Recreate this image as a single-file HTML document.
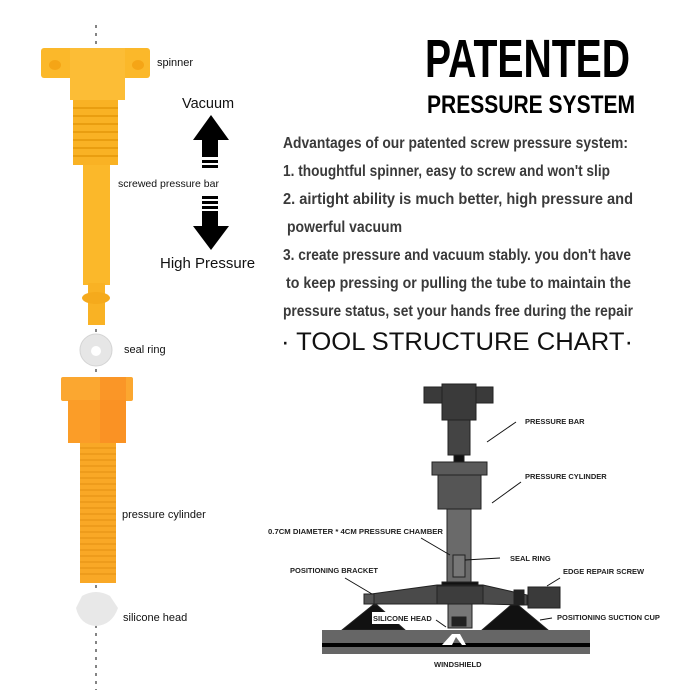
<!DOCTYPE html>
<html><head><meta charset="utf-8"><style>
html,body{margin:0;padding:0;background:#fff;}
svg{display:block;}
</style></head><body>
<svg width="700" height="700" viewBox="0 0 700 700" xmlns="http://www.w3.org/2000/svg" font-family="Liberation Sans, sans-serif">
<rect width="700" height="700" fill="#fff"/>
<line x1="96" y1="25" x2="96" y2="690" stroke="#333" stroke-width="1.2" stroke-dasharray="3,5"/>
<!-- spinner -->
<rect x="41" y="48" width="109" height="30" rx="3" fill="#fbb82a"/>
<ellipse cx="55" cy="65" rx="6" ry="5" fill="#f5a516"/>
<ellipse cx="138" cy="65" rx="6" ry="5" fill="#f5a516"/>
<rect x="70" y="48" width="55" height="52" fill="#fcbd36"/>
<rect x="73" y="100" width="45" height="65" fill="#f9b224"/>
<g stroke="#e99e10" stroke-width="2">
<line x1="73" y1="108" x2="118" y2="108"/><line x1="73" y1="116" x2="118" y2="116"/><line x1="73" y1="124" x2="118" y2="124"/><line x1="73" y1="132" x2="118" y2="132"/><line x1="73" y1="140" x2="118" y2="140"/><line x1="73" y1="148" x2="118" y2="148"/><line x1="73" y1="156" x2="118" y2="156"/></g>
<rect x="83" y="165" width="27" height="120" fill="#fbb82a"/>
<rect x="88" y="283" width="17" height="42" fill="#f9b224"/>
<ellipse cx="96" cy="298" rx="14" ry="6" fill="#f5aa1c"/>
<text x="157" y="66" font-size="11" fill="#111">spinner</text>
<text x="182" y="108" font-size="14.5" fill="#111">Vacuum</text>
<polygon points="211,115 229,140 193,140" fill="#000"/>
<rect x="202" y="140" width="16" height="17" fill="#000"/>
<rect x="202" y="160" width="16" height="3" fill="#000"/><rect x="202" y="165" width="16" height="3" fill="#000"/>
<text x="118" y="187" font-size="10.5" fill="#111">screwed pressure bar</text>
<rect x="202" y="196" width="16" height="3" fill="#000"/><rect x="202" y="201" width="16" height="3" fill="#000"/><rect x="202" y="206" width="16" height="3" fill="#000"/>
<rect x="202" y="211" width="16" height="15" fill="#000"/>
<polygon points="193,226 229,226 211,250" fill="#000"/>
<text x="160" y="268" font-size="15" fill="#111">High Pressure</text>
<!-- seal ring -->
<circle cx="96" cy="350" r="16" fill="#e6e6e6" stroke="#d4d4d4"/>
<circle cx="96" cy="351" r="5" fill="#fff"/>
<text x="124" y="353" font-size="11" fill="#111">seal ring</text>
<!-- cylinder -->
<rect x="61" y="377" width="72" height="24" rx="2" fill="#fba730"/>
<rect x="68" y="400" width="58" height="43" fill="#fb9d28"/>
<rect x="100" y="377" width="26" height="66" fill="#fa8a22" opacity="0.6"/>
<rect x="80" y="443" width="36" height="140" fill="#f9a826"/>
<g stroke="#e48f12" stroke-width="1">
<line x1="80" y1="448" x2="116" y2="448"/><line x1="80" y1="454" x2="116" y2="454"/><line x1="80" y1="460" x2="116" y2="460"/><line x1="80" y1="466" x2="116" y2="466"/><line x1="80" y1="472" x2="116" y2="472"/><line x1="80" y1="478" x2="116" y2="478"/><line x1="80" y1="484" x2="116" y2="484"/><line x1="80" y1="490" x2="116" y2="490"/><line x1="80" y1="496" x2="116" y2="496"/><line x1="80" y1="502" x2="116" y2="502"/><line x1="80" y1="508" x2="116" y2="508"/><line x1="80" y1="514" x2="116" y2="514"/><line x1="80" y1="520" x2="116" y2="520"/><line x1="80" y1="526" x2="116" y2="526"/><line x1="80" y1="532" x2="116" y2="532"/><line x1="80" y1="538" x2="116" y2="538"/><line x1="80" y1="544" x2="116" y2="544"/><line x1="80" y1="550" x2="116" y2="550"/><line x1="80" y1="556" x2="116" y2="556"/><line x1="80" y1="562" x2="116" y2="562"/><line x1="80" y1="568" x2="116" y2="568"/><line x1="80" y1="574" x2="116" y2="574"/></g>
<text x="122" y="518" font-size="11" fill="#111">pressure cylinder</text>
<path d="M82,596 Q96,588 110,596 L118,608 Q112,625 96,626 Q80,625 76,608 Z" fill="#e8e8e8"/>
<text x="123" y="621" font-size="11" fill="#111">silicone head</text>
<!-- right heading -->
<text x="425" y="77" font-size="54" font-weight="bold" fill="#000" textLength="205" lengthAdjust="spacingAndGlyphs">PATENTED</text>
<text x="427" y="113" font-size="25" font-weight="bold" fill="#000" textLength="208" lengthAdjust="spacingAndGlyphs">PRESSURE SYSTEM</text>
<g font-size="16" font-weight="bold" fill="#3a3a3a">
<text x="283" y="148" textLength="345" lengthAdjust="spacingAndGlyphs">Advantages of our patented screw pressure system:</text>
<text x="283" y="176" textLength="327" lengthAdjust="spacingAndGlyphs">1. thoughtful spinner, easy to screw and won't slip</text>
<text x="283" y="204" textLength="350" lengthAdjust="spacingAndGlyphs">2. airtight  ability  is  much  better,  high  pressure and</text>
<text x="287" y="232" textLength="115" lengthAdjust="spacingAndGlyphs">powerful vacuum</text>
<text x="283" y="260" textLength="348" lengthAdjust="spacingAndGlyphs">3. create pressure and vacuum stably. you don't have</text>
<text x="286" y="288" textLength="345" lengthAdjust="spacingAndGlyphs">to keep pressing  or  pulling  the tube to maintain the</text>
<text x="283" y="316" textLength="350" lengthAdjust="spacingAndGlyphs">pressure status, set your hands free during the repair</text>
</g>
<text x="281" y="350" font-size="25" fill="#111" textLength="352" lengthAdjust="spacingAndGlyphs">· TOOL STRUCTURE CHART·</text>
<!-- technical diagram -->
<g stroke="#222" stroke-width="1">
<rect x="424" y="387" width="69" height="16" fill="#3a3a3a"/>
<rect x="442" y="384" width="34" height="36" fill="#3a3a3a"/>
<rect x="448" y="420" width="22" height="35" fill="#444"/>
<rect x="454" y="455" width="10" height="7" fill="#111"/>
<rect x="432" y="462" width="55" height="13" fill="#5a5a5a"/>
<rect x="438" y="475" width="43" height="34" fill="#555"/>
<rect x="447" y="509" width="24" height="74" fill="#6a6a6a"/>
<rect x="453" y="555" width="12" height="22" fill="#777"/>
<rect x="442" y="582" width="36" height="8" fill="#111"/>
<polygon points="364,595 437,585 483,585 527,595 527,605 483,604 437,604 364,604" fill="#4a4a4a"/>
<rect x="437" y="586" width="46" height="18" fill="#3d3d3d"/>
<rect x="364" y="594" width="10" height="10" fill="#555"/>
<rect x="514" y="590" width="10" height="15" fill="#222"/>
<rect x="528" y="587" width="32" height="21" fill="#3a3a3a"/>
<rect x="448" y="604" width="24" height="24" fill="#777"/>
<rect x="452" y="617" width="14" height="9" fill="#222"/>
<polygon points="342,630 373,605 377,605 405,630" fill="#111"/>
<polygon points="482,630 511,605 518,605 548,630" fill="#111"/>
</g>
<rect x="372" y="612" width="64" height="12" fill="#fff"/>
<rect x="322" y="630" width="268" height="24" fill="#666"/>
<rect x="322" y="643" width="268" height="4" fill="#000"/>
<path d="M442,645 L452,634 L460,634 L466,645 L462,645 L456,637 L452,645 Z" fill="#fff"/>
<g stroke="#111" stroke-width="1">
<line x1="487" y1="442" x2="516" y2="422"/>
<line x1="492" y1="503" x2="521" y2="482"/>
<line x1="421" y1="538" x2="450" y2="555"/>
<line x1="465" y1="560" x2="500" y2="558"/>
<line x1="345" y1="578" x2="372" y2="594"/>
<line x1="547" y1="586" x2="560" y2="578"/>
<line x1="436" y1="620" x2="446" y2="627"/>
<line x1="540" y1="620" x2="552" y2="618"/>
</g>
<g font-size="7.5" font-weight="bold" fill="#222">
<text x="525" y="424">PRESSURE BAR</text>
<text x="525" y="479">PRESSURE CYLINDER</text>
<text x="268" y="534" textLength="175" lengthAdjust="spacingAndGlyphs">0.7CM DIAMETER * 4CM PRESSURE CHAMBER</text>
<text x="510" y="561">SEAL RING</text>
<text x="290" y="573">POSITIONING BRACKET</text>
<text x="563" y="574">EDGE REPAIR SCREW</text>
<text x="373" y="621">SILICONE HEAD</text>
<text x="557" y="620">POSITIONING SUCTION CUP</text>
<text x="434" y="667">WINDSHIELD</text>
</g>
</svg>
</body></html>
